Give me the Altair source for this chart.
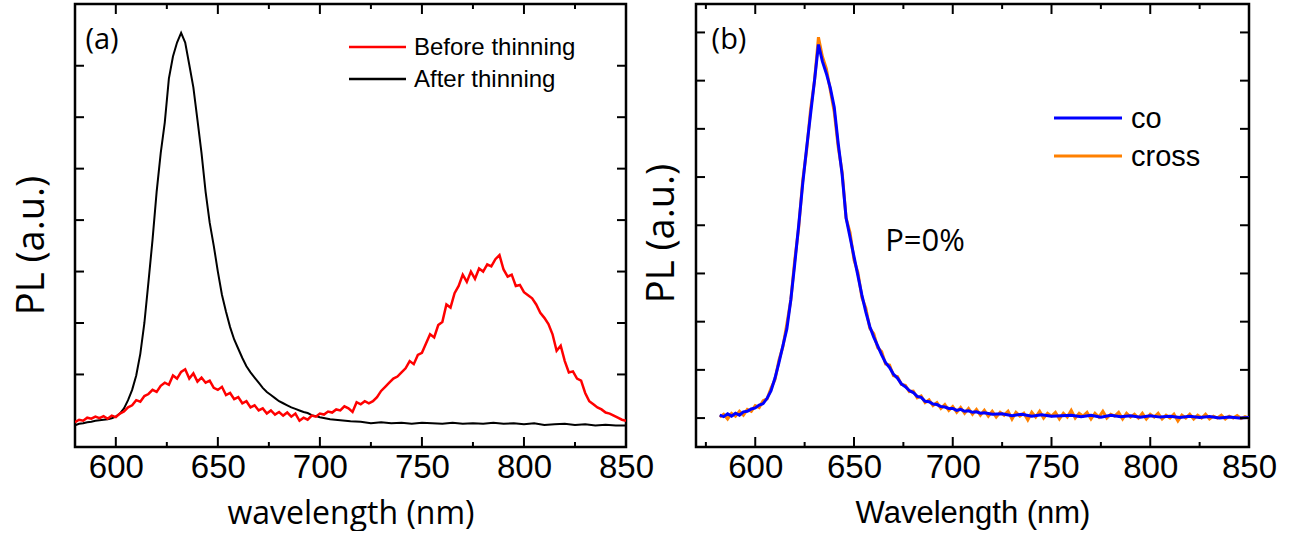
import altair as alt
import pandas as pd

# ---------------- panel (a) data ----------------
RED_WL = list(range(580, 851, 2))
RED_PL = [
    0.07, 0.12, 0.10, 0.16, 0.14,
    0.18, 0.15, 0.19, 0.14, 0.20,
    0.17, 0.24, 0.28, 0.36, 0.40,
    0.50, 0.47, 0.58, 0.62, 0.70,
    0.66, 0.78, 0.84, 0.80, 0.98,
    0.92, 1.05, 1.10, 0.92, 1.02,
    0.86, 0.94, 0.84, 0.88, 0.74,
    0.70, 0.76, 0.60, 0.64, 0.52,
    0.56, 0.44, 0.48, 0.36, 0.40,
    0.30, 0.34, 0.24, 0.30, 0.22,
    0.27, 0.20, 0.26, 0.18, 0.24,
    0.10, 0.16, 0.12, 0.20, 0.18,
    0.24, 0.22, 0.28, 0.26, 0.32,
    0.30, 0.38, 0.34, 0.27, 0.46,
    0.42, 0.48, 0.44, 0.48, 0.56,
    0.68, 0.76, 0.84, 0.92, 0.96,
    1.04, 1.12, 1.26, 1.20, 1.38,
    1.42, 1.60, 1.78, 1.72, 1.96,
    2.02, 2.36, 2.30, 2.58, 2.72,
    2.94, 2.80, 3.00, 2.86, 3.06,
    3.00, 3.14, 3.10, 3.24, 3.32,
    3.04, 2.90, 2.94, 2.72, 2.74,
    2.60, 2.54, 2.48, 2.36, 2.20,
    2.10, 1.98, 1.78, 1.46, 1.56,
    1.26, 1.04, 1.06, 0.92, 0.88,
    0.64, 0.48, 0.42, 0.36, 0.32,
    0.26, 0.24, 0.20, 0.16, 0.12,
    0.10,
]

BLACK_WL = list(range(580, 701, 2)) + list(range(705, 851, 5))
BLACK_PL = [
    0.01, 0.04, 0.05, 0.07, 0.08,
    0.10, 0.11, 0.12, 0.13, 0.15,
    0.18, 0.24, 0.34, 0.50, 0.70,
    0.98, 1.40, 2.00, 2.80, 3.62,
    4.55, 5.30, 5.90, 6.75, 7.18,
    7.45, 7.64, 7.45, 7.02, 6.58,
    5.95, 5.30, 4.55, 3.95, 3.50,
    3.00, 2.55, 2.22, 1.92, 1.68,
    1.50, 1.32, 1.16, 1.04, 0.94,
    0.84, 0.74, 0.66, 0.60, 0.54,
    0.48, 0.44, 0.40, 0.36, 0.33,
    0.30, 0.27, 0.25, 0.21, 0.19,
    0.17,
    0.13, 0.11, 0.09, 0.08, 0.05,
    0.07, 0.05, 0.06, 0.04, 0.06,
    0.05, 0.04, 0.06, 0.04, 0.05,
    0.04, 0.06, 0.04, 0.05, 0.03,
    0.05, 0.02, 0.03, 0.04, 0.02,
    0.03, 0.01, 0.02, 0.01, 0.01,
]

# ---------------- panel (b) data ----------------
CO_WL = list(range(582, 717, 2)) + list(range(720, 851, 5))
CO_PL = [
    0.06, 0.03, 0.09, 0.04, 0.10,
    0.06, 0.13, 0.14, 0.19, 0.21,
    0.27, 0.30, 0.41, 0.57, 0.83,
    1.15, 1.50, 1.85, 2.45, 3.20,
    4.00, 4.85, 5.60, 6.30, 7.00,
    7.75, 7.40, 7.15, 6.85, 6.45,
    5.70, 5.05, 4.15, 3.75, 3.35,
    2.95, 2.55, 2.20, 1.90, 1.68,
    1.50, 1.31, 1.15, 1.05, 0.91,
    0.83, 0.71, 0.65, 0.57, 0.53,
    0.45, 0.43, 0.35, 0.34, 0.29,
    0.28, 0.24, 0.23, 0.20, 0.20,
    0.16, 0.18, 0.14, 0.15, 0.12,
    0.13, 0.10, 0.11,
    0.08, 0.09, 0.05, 0.08, 0.04,
    0.07, 0.04, 0.05, 0.06, 0.03,
    0.06, 0.02, 0.06, 0.03, 0.05,
    0.02, 0.05, 0.02, 0.04, 0.01,
    0.04, 0.01, 0.03, 0.00, 0.02,
    0.00, 0.01,
]

CROSS_WL = list(range(582, 851, 2))
CROSS_PL = [
    0.02, 0.08, -0.02, 0.10, 0.04,
    0.14, 0.06, 0.18, 0.14, 0.26,
    0.22, 0.36, 0.40, 0.62, 0.80,
    1.20, 1.48, 1.95, 2.45, 3.28,
    3.95, 4.92, 5.55, 6.40, 7.00,
    7.90, 7.50, 7.25, 6.80, 6.35,
    5.62, 5.10, 4.15, 3.85, 3.28,
    3.02, 2.50, 2.28, 1.86, 1.75,
    1.46, 1.38, 1.12, 1.10, 0.88,
    0.86, 0.70, 0.68, 0.55, 0.56,
    0.42, 0.46, 0.32, 0.38, 0.26,
    0.32, 0.20, 0.28, 0.16, 0.24,
    0.12, 0.22, 0.10, 0.20, 0.08,
    0.18, 0.06, 0.16, 0.04, 0.14,
    0.02, 0.12, 0.06, 0.14, -0.02,
    0.12, 0.04, 0.10, -0.04, 0.12,
    0.02, 0.14, 0.00, 0.10, 0.04,
    0.12, -0.02, 0.10, 0.02, 0.16,
    0.00, 0.10, 0.04, 0.12, -0.02,
    0.10, 0.02, 0.14, 0.00, 0.08,
    0.04, 0.12, -0.02, 0.10, 0.02,
    0.08, 0.00, 0.10, -0.02, 0.08,
    0.02, 0.10, -0.02, 0.06, 0.00,
    0.08, -0.06, 0.06, 0.00, 0.08,
    -0.02, 0.06, 0.00, 0.08, -0.02,
    0.04, 0.00, 0.06, -0.02, 0.04,
    0.00, 0.05, -0.01, 0.03, 0.00,
]

# ---------------- axes / ticks / labels ----------------
XA_MAJOR = [600, 650, 700, 750, 800, 850]
XA_MINOR = [625, 675, 725, 775, 825]
YA_TICKS = [1, 2, 3, 4, 5, 6, 7]
XB_MAJOR = [600, 650, 700, 750, 800, 850]
XB_MINOR = [575, 625, 675, 725, 775, 825]
YB_TICKS = [0, 1, 2, 3, 4, 5, 6, 7, 8]

LEG_A_LABELS = ["Before thinning", "After thinning"]
LEG_A_COLORS = ["#ff0000", "#000000"]
LEG_B_LABELS = ["co", "cross"]
LEG_B_COLORS = ["#0000ff", "#ff8000"]

W_A, W_B, H = 551, 553, 443
XA = alt.Scale(domain=[580, 850], nice=False, zero=False)
YA = alt.Scale(domain=[-0.41, 8.2], nice=False, zero=False)
XB = alt.Scale(domain=[570, 850], nice=False, zero=False)
YB = alt.Scale(domain=[-0.6, 8.59], nice=False, zero=False)

SANS = "Liberation Sans"
OPEN = "Open Sans"


def xaxis(title, font, size):
    return alt.Axis(values=XA_MAJOR, format="d", ticks=False, domain=False, grid=False,
                    labelFont=SANS, labelFontSize=33, labelPadding=4, labelColor="black",
                    labelFlush=False, labelOverlap=False, labelBound=False,
                    title=title, titleFont=font, titleFontSize=size, titleFontWeight="normal",
                    titleColor="black", titleY=66, titleBaseline="middle")


def yaxis(tx, ty):
    return alt.Axis(labels=False, ticks=False, domain=False, grid=False,
                    title="PL (a.u.)", titleFont=OPEN, titleFontSize=38,
                    titleFontWeight="normal", titleColor="black",
                    titleX=tx, titleY=ty, titleBaseline="middle")


AX_A = xaxis("wavelength (nm)", OPEN, 32)
AY_A = yaxis(-43, 241)
AX_B = xaxis("Wavelength (nm)", SANS, 31)
AY_B = yaxis(-34, 229)


def series(wl, pl, xs, ys, color, sw, xax, yax):
    df = pd.DataFrame({"wl": wl, "pl": pl})
    return alt.Chart(df).mark_line(color=color, strokeWidth=sw, clip=True).encode(
        x=alt.X("wl:Q", scale=xs, axis=xax),
        y=alt.Y("pl:Q", scale=ys, axis=yax),
    )


def tick_layers(xs, ys, xax, yax, w, xmaj, xmin, yt):
    out = []
    for vals, ln in ((xmaj, 10), (xmin, 5)):
        d = pd.DataFrame({"t": vals})
        out.append(alt.Chart(d).mark_rule(color="black", strokeWidth=2).encode(
            x=alt.X("t:Q", scale=xs, axis=xax), y=alt.value(H), y2=alt.value(H - ln)))
        out.append(alt.Chart(d).mark_rule(color="black", strokeWidth=2).encode(
            x=alt.X("t:Q", scale=xs, axis=xax), y=alt.value(0), y2=alt.value(ln)))
    d = pd.DataFrame({"t": yt})
    out.append(alt.Chart(d).mark_rule(color="black", strokeWidth=2).encode(
        y=alt.Y("t:Q", scale=ys, axis=yax), x=alt.value(0), x2=alt.value(9)))
    out.append(alt.Chart(d).mark_rule(color="black", strokeWidth=2).encode(
        y=alt.Y("t:Q", scale=ys, axis=yax), x=alt.value(w), x2=alt.value(w - 9)))
    return out


def label(text, x, y, font, size, align="center"):
    d = pd.DataFrame({"s": [text]})
    return alt.Chart(d).mark_text(font=font, fontSize=size, color="black", align=align,
                                  baseline="middle").encode(
        text="s:N", x=alt.value(x), y=alt.value(y))


def legend(labels, colors, x0, x1, y0, dy, tx, size, sw):
    out = []
    for i, (lab, col) in enumerate(zip(labels, colors)):
        d = pd.DataFrame({"s": [lab]})
        out.append(alt.Chart(d).mark_rule(color=col, strokeWidth=sw).encode(
            x=alt.value(x0), x2=alt.value(x1), y=alt.value(y0 + dy * i)))
        out.append(alt.Chart(d).mark_text(font=SANS, fontSize=size, color="black",
                                          align="left", baseline="middle").encode(
            text="s:N", x=alt.value(tx), y=alt.value(y0 + dy * i + 1)))
    return out


panel_a = alt.layer(
    series(BLACK_WL, BLACK_PL, XA, YA, "#000000", 2, AX_A, AY_A),
    series(RED_WL, RED_PL, XA, YA, "#ff0000", 2.5, AX_A, AY_A),
    *tick_layers(XA, YA, AX_A, AY_A, W_A, XA_MAJOR, XA_MINOR, YA_TICKS),
    label("(a)", 27, 36, OPEN, 29),
    *legend(LEG_A_LABELS, LEG_A_COLORS, 274, 331, 43, 32, 339, 24, 2.5),
).properties(width=W_A, height=H)

panel_b = alt.layer(
    series(CROSS_WL, CROSS_PL, XB, YB, "#ff8000", 3, AX_B, AY_B),
    series(CO_WL, CO_PL, XB, YB, "#0000ff", 3, AX_B, AY_B),
    *tick_layers(XB, YB, AX_B, AY_B, W_B, XB_MAJOR, XB_MINOR, YB_TICKS),
    label("(b)", 33, 36, OPEN, 29),
    label("P=0%", 229, 238, OPEN, 31),
    *legend(LEG_B_LABELS, LEG_B_COLORS, 358, 426, 114, 38, 435, 29, 3),
).properties(width=W_B, height=H)

chart = alt.hconcat(panel_a, panel_b, spacing=70, bounds="flush").properties(
    padding={"left": 11, "top": 1, "right": 0, "bottom": 0},
    background="white",
).configure_view(stroke="black", strokeWidth=2.5)

chart.save("out.html", embed_options={"renderer": "svg", "actions": False})
